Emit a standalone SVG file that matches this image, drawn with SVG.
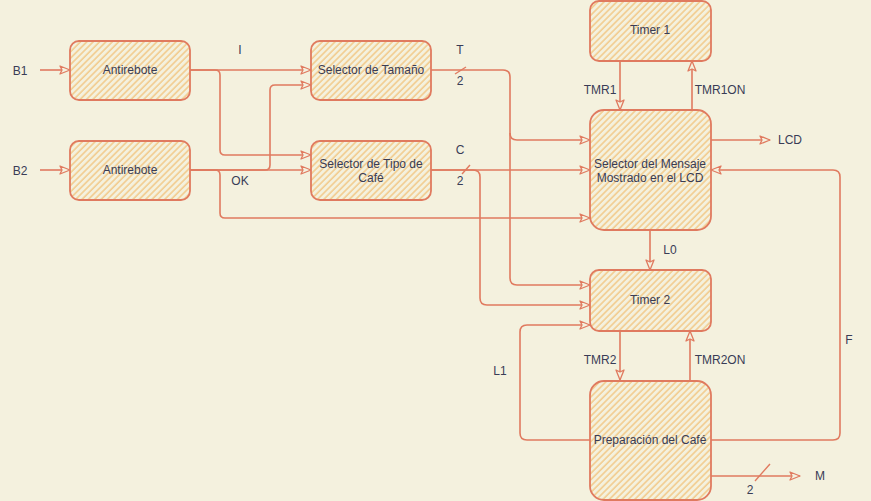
<svg xmlns="http://www.w3.org/2000/svg" width="871" height="501" viewBox="0 0 871 501">
<defs>
<pattern id="hach" patternUnits="userSpaceOnUse" width="4.5" height="4.5" patternTransform="rotate(45)">
<rect width="4.5" height="4.5" fill="#F4F1DE"/>
<line x1="1" y1="0" x2="1" y2="4.5" stroke="#F2CC8F" stroke-width="1.6"/>
</pattern>
<marker id="arr" markerUnits="userSpaceOnUse" markerWidth="12" markerHeight="10" refX="11" refY="5" orient="auto">
<path d="M1,1 L11,5 L1,9 L3,5 Z" fill="#F4F1DE" stroke="#E07A5F" stroke-width="1.3" stroke-linejoin="round"/>
</marker>
<style>
.node rect{fill:url(#hach);stroke:#E07A5F;stroke-width:1.8}
text{font-family:"Liberation Sans",Arial,sans-serif;font-size:12px;fill:#393C56;text-anchor:middle;dominant-baseline:central}
.edges path{fill:none;stroke:#E07A5F;stroke-width:1.6;marker-end:url(#arr)}
.edges line{stroke:#E07A5F;stroke-width:1.4}
</style>
</defs>
<rect width="871" height="501" fill="#F4F1DE"/>
<g id="edges" class="edges">
<path d="M40,70 H70"/>
<path d="M40,170 H70"/>
<path d="M190,70 H311"/>
<path d="M190,70 H215 Q220,70 220,75 V150 Q220,155 225,155 H311"/>
<path d="M190,170 H311"/>
<path d="M190,170 H265 Q270,170 270,165 V90 Q270,85 275,85 H311"/>
<path d="M190,170 H215 Q220,170 220,175 V213 Q220,218 225,218 H590"/>
<path d="M431,70 H503 Q510,70 510,77 V133 Q510,140 517,140 H590"/>
<path d="M510,133 V278 Q510,285 517,285 H590"/>
<path d="M431,170 H590"/>
<path d="M431,170 H473 Q480,170 480,177 V298 Q480,305 487,305 H590"/>
<path d="M620,61 V110"/>
<path d="M692,110 V61"/>
<path d="M711,140 H770"/>
<path d="M650,230 V270"/>
<path d="M620,331 V380"/>
<path d="M690,380 V331"/>
<path d="M590,440 H527 Q520,440 520,433 V332 Q520,325 527,325 H590"/>
<path d="M711,440 H833 Q840,440 840,433 V177 Q840,170 833,170 H711"/>
<path d="M711,476 H800"/>
<line x1="455" y1="74" x2="466" y2="67"/>
<line x1="462" y1="174" x2="470" y2="165"/>
<line x1="755" y1="481" x2="770" y2="464"/>
</g>
<g id="antirebote1" class="node"><rect x="70" y="41" width="120" height="59" rx="9"/><text x="130" y="70">Antirebote</text></g>
<g id="antirebote2" class="node"><rect x="70" y="141" width="120" height="59" rx="9"/><text x="130" y="170">Antirebote</text></g>
<g id="selTamano" class="node"><rect x="311" y="41" width="120" height="59" rx="9"/><text x="371" y="70">Selector de Tamaño</text></g>
<g id="selTipo" class="node"><rect x="311" y="141" width="120" height="59" rx="9"/><text x="371" y="164">Selector de Tipo de</text><text x="371" y="178">Café</text></g>
<g id="timer1" class="node"><rect x="590" y="1" width="121" height="60" rx="9"/><text x="650" y="30">Timer 1</text></g>
<g id="selMensaje" class="node"><rect x="590" y="110" width="121" height="120" rx="14"/><text x="650" y="164">Selector del Mensaje</text><text x="650" y="178">Mostrado en el LCD</text></g>
<g id="timer2" class="node"><rect x="590" y="270" width="121" height="61" rx="9"/><text x="650" y="300">Timer 2</text></g>
<g id="preparacion" class="node"><rect x="590" y="381" width="121" height="119" rx="14"/><text x="650" y="440">Preparación del Café</text></g>
<g id="labels">
<text x="20" y="71">B1</text>
<text x="20" y="171">B2</text>
<text x="240" y="50">I</text>
<text x="240" y="181">OK</text>
<text x="460" y="50">T</text>
<text x="460" y="81">2</text>
<text x="460" y="150">C</text>
<text x="460" y="181">2</text>
<text x="600" y="90">TMR1</text>
<text x="720" y="90">TMR1ON</text>
<text x="790" y="140">LCD</text>
<text x="670" y="250">L0</text>
<text x="600" y="360">TMR2</text>
<text x="720" y="360">TMR2ON</text>
<text x="500" y="371">L1</text>
<text x="849" y="340">F</text>
<text x="820" y="476">M</text>
<text x="750" y="490">2</text>
</g>
</svg>
